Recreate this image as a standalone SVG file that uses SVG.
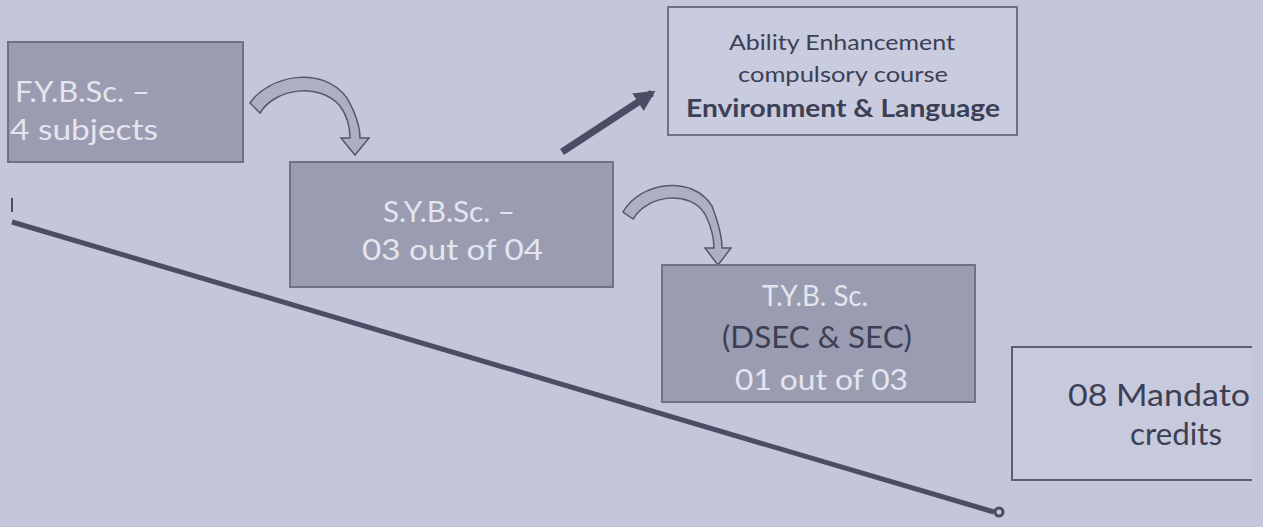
<svg xmlns="http://www.w3.org/2000/svg" width="1263" height="527" viewBox="0 0 1263 527">
<defs>
<style>
.box{fill:#9a9cb1;stroke:#6f7186;stroke-width:2}
.lbox{fill:#c9cbde;stroke:#6f7186;stroke-width:2}
.wt{font-family:Lato,"Open Sans","DejaVu Sans",sans-serif;fill:#e4e5ee;font-size:29px}
.dt{font-family:Lato,"Open Sans","DejaVu Sans",sans-serif;fill:#3c3f55}
.curve{fill:#aeb0c2;stroke:#55586d;stroke-width:1.5}
</style>
<marker id="ah" viewBox="0 0 10 10" refX="8" refY="5" markerWidth="3" markerHeight="3" orient="auto">
<path d="M0,0 L10,5 L0,10 z" fill="#4a4d63"/>
</marker>
</defs>
<rect width="1263" height="527" fill="#c4c6da"/>
<g id="connectors">
<path d="M12,222 L994,512" stroke="#4a4d63" stroke-width="5" fill="none"/>
<circle cx="999" cy="512" r="4" fill="none" stroke="#4a4d63" stroke-width="3"/>
<path d="M12,198 L12,212" stroke="#4a4d63" stroke-width="2"/>
<path d="M562,152 L652,93" stroke="#4a4d63" stroke-width="7" fill="none" marker-end="url(#ah)"/>
<path class="curve" d="M250,103 C268,76 322,64 347,98 C355,112 360,125 360,138 L369,138 L355,155 L341,138 L350,138 C350,126 346,114 340,106 C320,82 275,88 260,113 Z"/>
<path class="curve" d="M623,212 C640,182 692,174 712,206 C718,222 722,238 722,248 L731,248 L718,265 L705,248 L714,248 C714,236 710,224 705,214 C690,190 648,194 633,219 Z"/>
</g>
<g id="fy">
<rect class="box" x="8" y="42" width="235" height="120"/>
<text class="wt" x="15" y="102" textLength="135" lengthAdjust="spacingAndGlyphs">F.Y.B.Sc. –</text>
<text class="wt" x="10" y="140" textLength="148" lengthAdjust="spacingAndGlyphs">4 subjects</text>
</g>
<g id="sy">
<rect class="box" x="290" y="162" width="323" height="125"/>
<text class="wt" x="383" y="222" textLength="132" lengthAdjust="spacingAndGlyphs">S.Y.B.Sc. –</text>
<text class="wt" x="362" y="260" font-size="32" textLength="181" lengthAdjust="spacingAndGlyphs">03 out of 04</text>
</g>
<g id="ability">
<rect class="lbox" x="668" y="7" width="349" height="128"/>
<text class="dt" x="729" y="50" font-size="21" textLength="226" lengthAdjust="spacingAndGlyphs">Ability Enhancement</text>
<text class="dt" x="738" y="82" font-size="21" textLength="210" lengthAdjust="spacingAndGlyphs">compulsory course</text>
<text class="dt" x="686" y="117" font-size="24" font-weight="bold" textLength="314" lengthAdjust="spacingAndGlyphs">Environment &amp; Language</text>
</g>
<g id="ty">
<rect class="box" x="662" y="265" width="313" height="137"/>
<text class="wt" x="762" y="306" font-size="27" textLength="106" lengthAdjust="spacingAndGlyphs">T.Y.B. Sc.</text>
<text class="dt" x="722" y="348" font-size="30" textLength="190" lengthAdjust="spacingAndGlyphs">(DSEC &amp; SEC)</text>
<text class="wt" x="735" y="390" font-size="30" textLength="173" lengthAdjust="spacingAndGlyphs">01 out of 03</text>
</g>
<g id="mandatory">
<path d="M1252,347 L1012,347 L1012,480 L1252,480" fill="#c7c9dc" stroke="#5c5f74" stroke-width="2"/>
<text class="dt" x="1068" y="406" font-size="31" textLength="182" lengthAdjust="spacingAndGlyphs">08 Mandato</text>
<text class="dt" x="1130" y="445" font-size="30" textLength="92" lengthAdjust="spacingAndGlyphs">credits</text>
</g>
</svg>
